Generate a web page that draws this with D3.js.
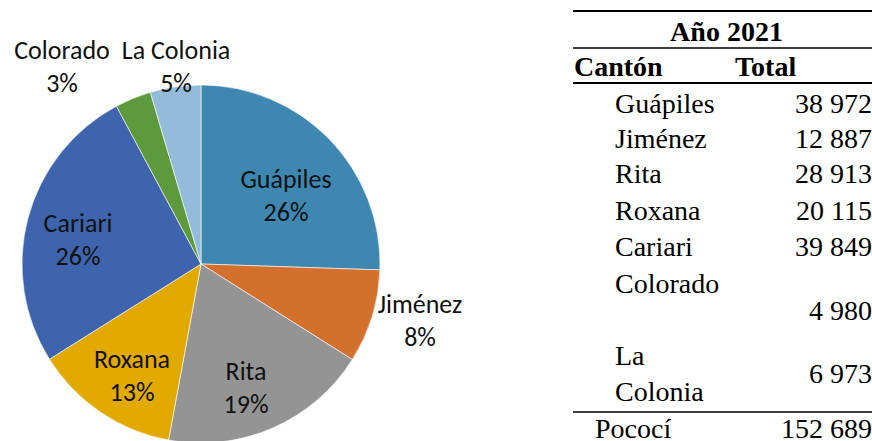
<!DOCTYPE html>
<html>
<head>
<meta charset="utf-8">
<script src="https://cdn.jsdelivr.net/npm/d3@7"></script>
<style>
  body { margin: 0; background: #fff; }
  svg { display: block; }
</style>
</head>
<body>
<svg id="chart" width="872" height="441"></svg>
<script>
// data (Pococí, año 2021)
const cantones = ["Guápiles", "Jiménez", "Rita", "Roxana", "Cariari", "Colorado", "La Colonia"]
const totales = [38972, 12887, 28913, 20115, 39849, 4980, 6973]
const colores = ["#3d87b1", "#d4702d", "#949494", "#e2aa00", "#3e64ad", "#5c9a3d", "#93bbda"]
const totalLabels = ["38 972", "12 887", "28 913", "20 115", "39 849", "4 980", "6 973"]
const totalPococi = "152 689"

const svg = d3.select("#chart")

/* ~ ~ ~ pie ~ ~ ~ */
const cx = 201, cy = 264, radius = 179

const pie = d3.pie().sort(null).value(d => d[1])
const pieData = pie(cantones.map((c, i) => [c, totales[i]]))
const color = d3.scaleOrdinal().domain(cantones).range(colores)
const arc = d3.arc().innerRadius(0).outerRadius(radius)

const g = svg.append("g").attr("transform", `translate(${cx}, ${cy})`)

g.selectAll("path")
  .data(pieData)
  .join("path")
  .attr("d", arc)
  .attr("fill", d => color(d.data[0]))
  .attr("stroke", "white")
  .style("stroke-width", "0.6px")

const suma = d3.sum(totales)
const pct = v => Math.round(v / suma * 100) + "%"

// label spots (centre x, first baseline) relative to pie centre
const labelPos = {
  "Guápiles": [85, -76],
  "Jiménez": [219, 49],
  "Rita": [45, 116],
  "Roxana": [-69, 104],
  "Cariari": [-123, -32],
  "Colorado": [-139, -205],
  "La Colonia": [-25, -205]
}

const labels = g.selectAll("g.lbl")
  .data(pieData)
  .join("g")
  .attr("class", "lbl")
  .attr("transform", d => `translate(${labelPos[d.data[0]][0]}, ${labelPos[d.data[0]][1]})`)
  .style("font-family", "Carlito, Lato, 'Open Sans', sans-serif")
  .style("font-size", "26px")
  .attr("text-anchor", "middle")
  .attr("fill", "#111")

labels.append("text").attr("y", 0).text(d => d.data[0])
labels.append("text").attr("y", 33).text(d => pct(d.data[1]))

/* ~ ~ ~ table ~ ~ ~ */
const t = svg.append("g")
  .style("font-family", "'Liberation Serif', 'Times New Roman', serif")
  .style("font-size", "28px")
  .attr("fill", "#000")

const tx0 = 573, tx1 = 872, valX = 872

t.append("line").attr("x1", tx0).attr("x2", tx1).attr("y1", 11).attr("y2", 11).attr("stroke", "#000").attr("stroke-width", 2)
t.append("line").attr("x1", tx0).attr("x2", tx1).attr("y1", 48).attr("y2", 48).attr("stroke", "#000").attr("stroke-width", 1.5)
t.append("line").attr("x1", tx0).attr("x2", tx1).attr("y1", 83).attr("y2", 83).attr("stroke", "#000").attr("stroke-width", 2)
t.append("line").attr("x1", tx0).attr("x2", tx1).attr("y1", 412).attr("y2", 412).attr("stroke", "#000").attr("stroke-width", 1.5)

t.append("text").attr("x", 726.5).attr("y", 41).attr("text-anchor", "middle")
  .attr("font-weight", "bold").text("Año 2021")
t.append("text").attr("x", 574).attr("y", 76).attr("font-weight", "bold").text("Cantón")
t.append("text").attr("x", 735).attr("y", 76).attr("font-weight", "bold").text("Total")

// row baselines; the last two rows wrap like in the original table
const rowY = [113, 148, 183, 220, 256]
cantones.slice(0, 5).forEach((c, i) => {
  t.append("text").attr("x", 615).attr("y", rowY[i]).text(c)
  t.append("text").attr("x", valX).attr("y", rowY[i]).attr("text-anchor", "end").text(totalLabels[i])
})

t.append("text").attr("x", 615).attr("y", 293).text("Colorado")
t.append("text").attr("x", valX).attr("y", 320).attr("text-anchor", "end").text(totalLabels[5])

t.append("text").attr("x", 615).attr("y", 365).text("La")
t.append("text").attr("x", 615).attr("y", 401).text("Colonia")
t.append("text").attr("x", valX).attr("y", 383).attr("text-anchor", "end").text(totalLabels[6])

t.append("text").attr("x", 595).attr("y", 438).text("Pococí")
t.append("text").attr("x", valX).attr("y", 438).attr("text-anchor", "end").text(totalPococi)
</script>
</body>
</html>
